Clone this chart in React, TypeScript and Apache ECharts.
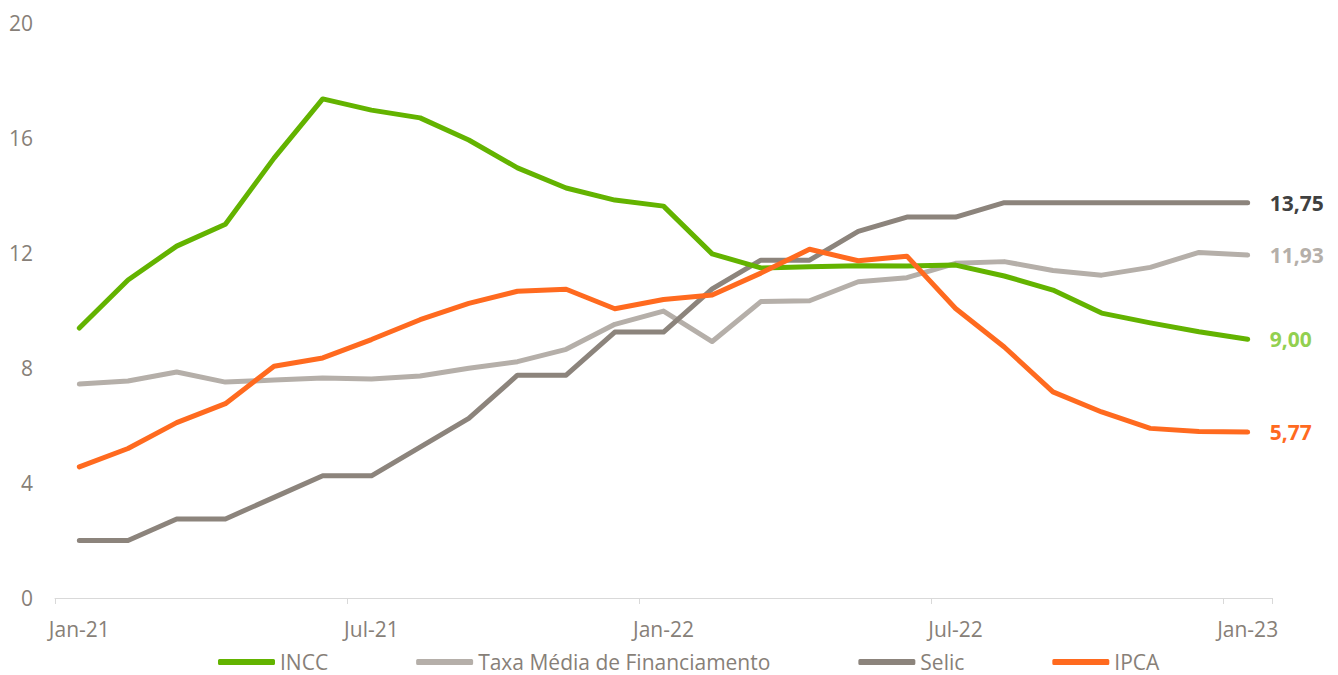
import React, { useEffect, useRef } from "react";
import * as echarts from "echarts";

const categories = [
  "Jan-21", "Feb-21", "Mar-21", "Apr-21", "May-21", "Jun-21", "Jul-21", "Aug-21", "Sep-21", "Oct-21", "Nov-21", "Dec-21",
  "Jan-22", "Feb-22", "Mar-22", "Apr-22", "May-22", "Jun-22", "Jul-22", "Aug-22", "Sep-22", "Oct-22", "Nov-22", "Dec-22",
  "Jan-23",
];

const incc = [9.39, 11.06, 12.24, 13.0, 15.3, 17.36, 16.97, 16.7, 15.93, 14.96, 14.26, 13.84, 13.63, 11.97, 11.48, 11.52, 11.56, 11.55, 11.58, 11.2, 10.71, 9.91, 9.57, 9.26, 9.0];
const taxa = [7.44, 7.55, 7.86, 7.51, 7.58, 7.65, 7.62, 7.72, 7.99, 8.22, 8.65, 9.52, 9.98, 8.92, 10.31, 10.34, 11.0, 11.14, 11.64, 11.7, 11.39, 11.23, 11.5, 12.02, 11.93];
const selic = [2.0, 2.0, 2.75, 2.75, 3.5, 4.25, 4.25, 5.25, 6.25, 7.75, 7.75, 9.25, 9.25, 10.75, 11.75, 11.75, 12.75, 13.25, 13.25, 13.75, 13.75, 13.75, 13.75, 13.75, 13.75];
const ipca = [4.56, 5.2, 6.1, 6.76, 8.06, 8.35, 8.99, 9.68, 10.25, 10.67, 10.74, 10.06, 10.38, 10.54, 11.3, 12.13, 11.73, 11.89, 10.07, 8.73, 7.17, 6.47, 5.9, 5.79, 5.77];

const seriesNames = ["INCC", "Taxa Média de Financiamento", "Selic", "IPCA"];
const yTicks = { min: 0, max: 20, interval: 4 };

const FONT = "'Open Sans', sans-serif";
const AXIS_COLOR = "#877F78";

export default function App() {
  const ref = useRef<HTMLDivElement>(null);

  useEffect(() => {
    if (!ref.current) return;
    const chart = echarts.init(ref.current, null, { renderer: "svg" });

    const fmt = (v: number) => v.toFixed(2).replace(".", ",");

    const mk = (name: string, data: number[], color: string, labelColor: string, z: number) => ({
      name,
      type: "line",
      data,
      symbol: "none",
      z,
      lineStyle: { color, width: 5, cap: "round", join: "round" },
      itemStyle: { color },
      endLabel: {
        show: true,
        distance: 22,
        formatter: (p: any) => fmt(p.value),
        color: labelColor,
        fontFamily: FONT,
        fontWeight: "bold",
        fontSize: 21,
      },
    });

    chart.setOption({
      animation: false,
      textStyle: { fontFamily: FONT },
      grid: { left: 55, right: 66, top: 23, bottom: 77, containLabel: false },
      legend: {
        data: seriesNames,
        left: 218,
        top: 650,
        padding: 0,
        itemWidth: 57,
        itemHeight: 6,
        itemGap: 88,
        icon: "roundRect",
        textStyle: { color: AXIS_COLOR, fontSize: 21, fontFamily: FONT, lineHeight: 24 },
      },
      xAxis: {
        type: "category",
        data: categories,
        boundaryGap: true,
        axisLine: { show: true, lineStyle: { color: "#D9D9D9", width: 1 } },
        axisTick: { show: true, interval: 5, length: 6, lineStyle: { color: "#D9D9D9" } },
        axisLabel: { interval: 5, color: AXIS_COLOR, fontSize: 21, fontFamily: FONT, margin: 20 },
        splitLine: { show: false },
      },
      yAxis: {
        type: "value",
        min: yTicks.min,
        max: yTicks.max,
        interval: yTicks.interval,
        axisLine: { show: false },
        axisTick: { show: false },
        splitLine: { show: false },
        axisLabel: { color: AXIS_COLOR, fontSize: 21, fontFamily: FONT, margin: 22 },
      },
      series: [
        mk(seriesNames[1], taxa, "#B5AFA9", "#B5AFA9", 2),
        mk(seriesNames[2], selic, "#8C847C", "#404040", 3),
        mk(seriesNames[0], incc, "#63B300", "#92D050", 4),
        mk(seriesNames[3], ipca, "#FF6A1F", "#FF6A1F", 5),
      ],
    });

    return () => chart.dispose();
  }, []);

  return (
    <div
      ref={ref}
      style={{ position: "fixed", left: 0, top: 0, width: 1338, height: 675, background: "#fff" }}
    />
  );
}
